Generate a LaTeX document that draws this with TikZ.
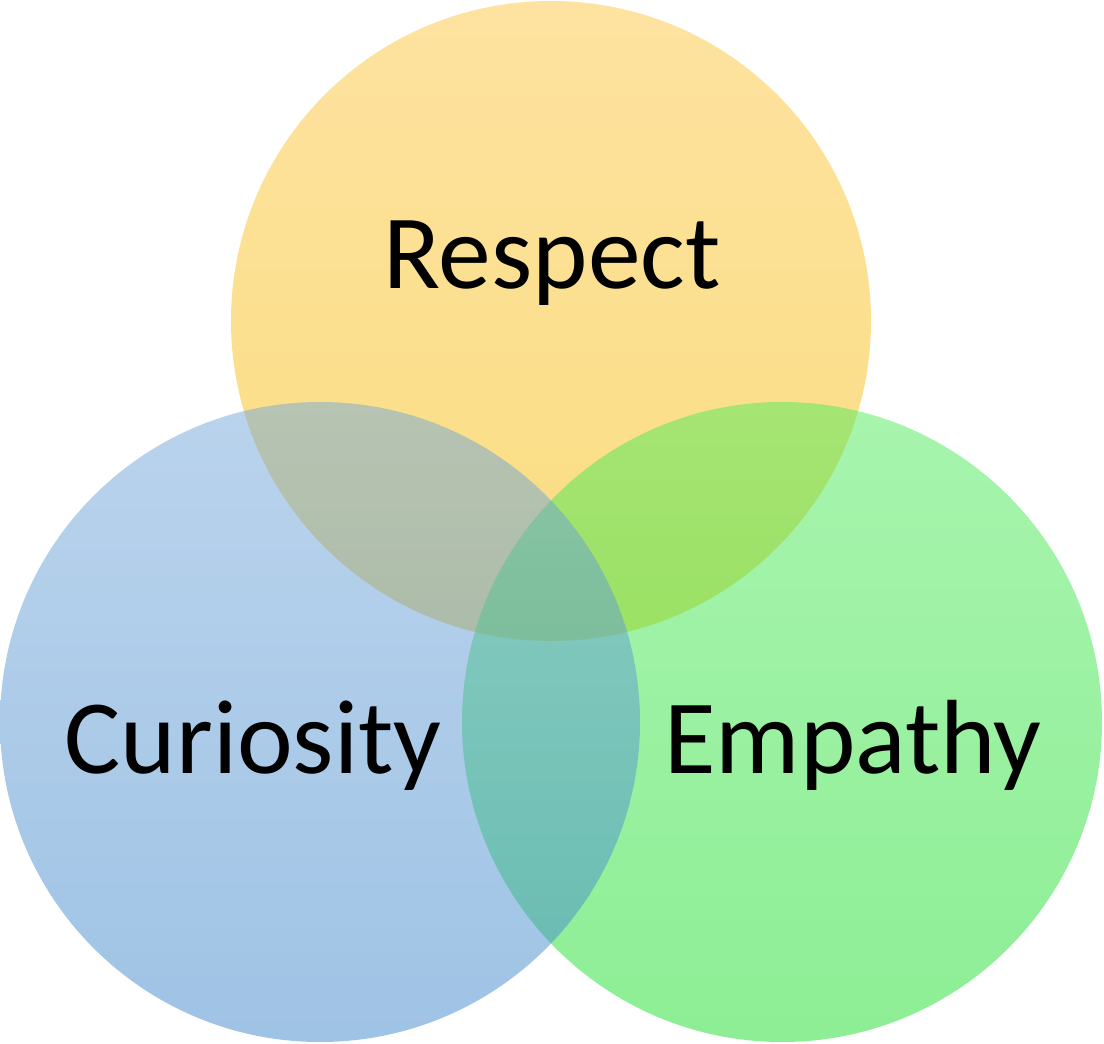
\documentclass[tikz,border=0pt]{standalone}
\usepackage{fontspec}
\setmainfont{Carlito}
\begin{document}
\begin{tikzpicture}[x=1pt,y=-1pt,
  venn/.style={fill opacity=0.5, draw=none},
  label/.style={anchor=base, inner sep=0pt, text=black,
    font=\fontsize{105.5}{112}\selectfont}]
\definecolor{ytop}{RGB}{253,198,66}
\definecolor{ybot}{RGB}{244,188,0}
\definecolor{gtop}{RGB}{81,234,93}
\definecolor{gbot}{RGB}{27,222,43}
\definecolor{btop}{RGB}{117,168,218}
\definecolor{bbot}{RGB}{63,135,204}
\useasboundingbox (0,0) rectangle (1104,1044);
\coordinate (respect) at (551,321);
\coordinate (empathy) at (782,722);
\coordinate (curiosity) at (320,722);
% translucent circles, back to front
\shade[venn, top color=ytop, bottom color=ybot] (respect) circle (320);
\shade[venn, top color=gtop, bottom color=gbot] (empathy) circle (320);
\shade[venn, top color=btop, bottom color=bbot] (curiosity) circle (320);
% labels
\node[label] (tr) at (552,288) {Respect};
\node[label] (tc) at (253,773) {Curiosity};
\node[label] (te) at (853,773) {Empathy};
\end{tikzpicture}
\end{document}
